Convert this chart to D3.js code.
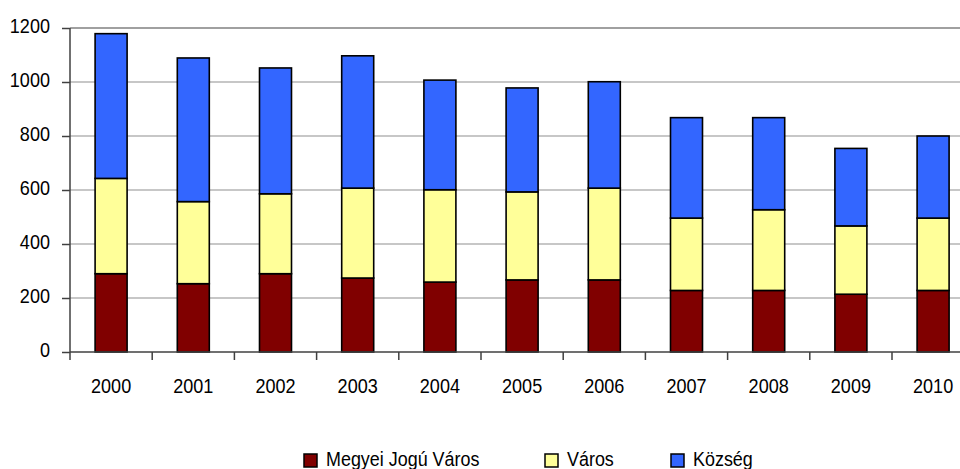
<!DOCTYPE html>
<html><head><meta charset="utf-8">
<script src="https://cdn.jsdelivr.net/npm/d3@7"></script>
<style>
body{margin:0;background:#fff;}
text{font-family:"Liberation Sans Narrow","Arial Narrow","Liberation Sans",sans-serif;fill:#000;}
</style></head>
<body><svg id="c" width="960" height="469"></svg>
<script>
const years = ["2000","2001","2002","2003","2004","2005","2006","2007","2008","2009","2010"];
const megyei = [290,253,290,274,259,267,267,228,228,214,228];
const varos  = [353,304,296,333,342,326,340,268,299,253,268];
const kozseg = [536,532,466,490,406,385,394,372,341,287,304];
const seriesNames = ["Megyei Jogú Város","Város","Község"];
const colors = ["#800000","#FFFF99","#3366FF"];
const yTicks = [0,200,400,600,800,1000,1200];

const svg = d3.select("#c");
const mLeft = 70, bandW = 82.2, mTop = 28, mBottom = 352;
const sx = 0.86;
const x = d3.scaleBand().domain(years).range([mLeft, mLeft + bandW*years.length]).paddingInner(0).paddingOuter(0);
const y = d3.scaleLinear().domain([0,1200]).range([mBottom, mTop]);

// gridlines
svg.append("g").selectAll("line").data(yTicks.filter(d=>d>0)).join("line")
  .attr("x1", mLeft).attr("x2", mLeft + bandW*years.length)
  .attr("y1", d=>y(d)).attr("y2", d=>y(d))
  .attr("stroke", d=> d===1200 ? "#808080" : "#b4b4b4").attr("stroke-width", 1.5);

const rows = years.map((yr,i)=>({year:yr, "Megyei Jogú Város":megyei[i], "Város":varos[i], "Község":kozseg[i]}));
const stack = d3.stack().keys(seriesNames)(rows);
const bw = 32;
svg.append("g").selectAll("g").data(stack).join("g")
  .attr("fill",(d,i)=>colors[i])
  .selectAll("rect").data(d=>d).join("rect")
  .attr("x", d=>x(d.data.year) + x.bandwidth()/2 - bw/2)
  .attr("width", bw)
  .attr("y", d=>y(d[1]))
  .attr("height", d=>y(d[0]) - y(d[1]))
  .attr("stroke","#000").attr("stroke-width",1.6);

// y axis
const ya = svg.append("g").attr("transform",`translate(${mLeft},0)`)
  .call(d3.axisLeft(y).tickValues(yTicks).tickSize(8).tickPadding(12).tickFormat(d3.format("d")));
ya.attr("font-family",null).attr("font-size",null);
ya.select(".domain").attr("stroke","#404040").attr("stroke-width",1.5).attr("d",`M0,${mTop}V${mBottom}`);
ya.selectAll(".tick line").attr("stroke","#404040").attr("stroke-width",1.5);
ya.selectAll(".tick text").attr("font-size",21).attr("dy","0.2em")
  .attr("x",0).attr("transform",`translate(-20,0) scale(${sx},1)`);

// x axis
const xa = svg.append("g").attr("transform",`translate(0,${mBottom})`);
xa.append("line").attr("x1",mLeft).attr("x2",mLeft+bandW*years.length).attr("y1",0).attr("y2",0)
  .attr("stroke","#404040").attr("stroke-width",1.5);
const bounds = d3.range(years.length+1).map(i=>mLeft + i*bandW);
xa.selectAll("line.t").data(bounds).join("line").attr("class","t")
  .attr("x1",d=>d).attr("x2",d=>d).attr("y1",0).attr("y2",8)
  .attr("stroke","#404040").attr("stroke-width",1.5);
xa.selectAll("text").data(years).join("text")
  .attr("transform", d=>`translate(${x(d)+x.bandwidth()/2},41) scale(${sx},1)`)
  .attr("text-anchor","middle").attr("font-size",21).text(d=>d);

// legend
const legX = [304, 545, 671];
const lg = svg.append("g");
seriesNames.forEach((n,i)=>{
  lg.append("rect").attr("x",legX[i]).attr("y",454).attr("width",13).attr("height",13)
    .attr("fill",colors[i]).attr("stroke","#000").attr("stroke-width",1.5);
  lg.append("text").attr("transform",`translate(${legX[i]+22},466) scale(0.92,1)`)
    .attr("font-size",19.5).text(n);
});
</script></body></html>
